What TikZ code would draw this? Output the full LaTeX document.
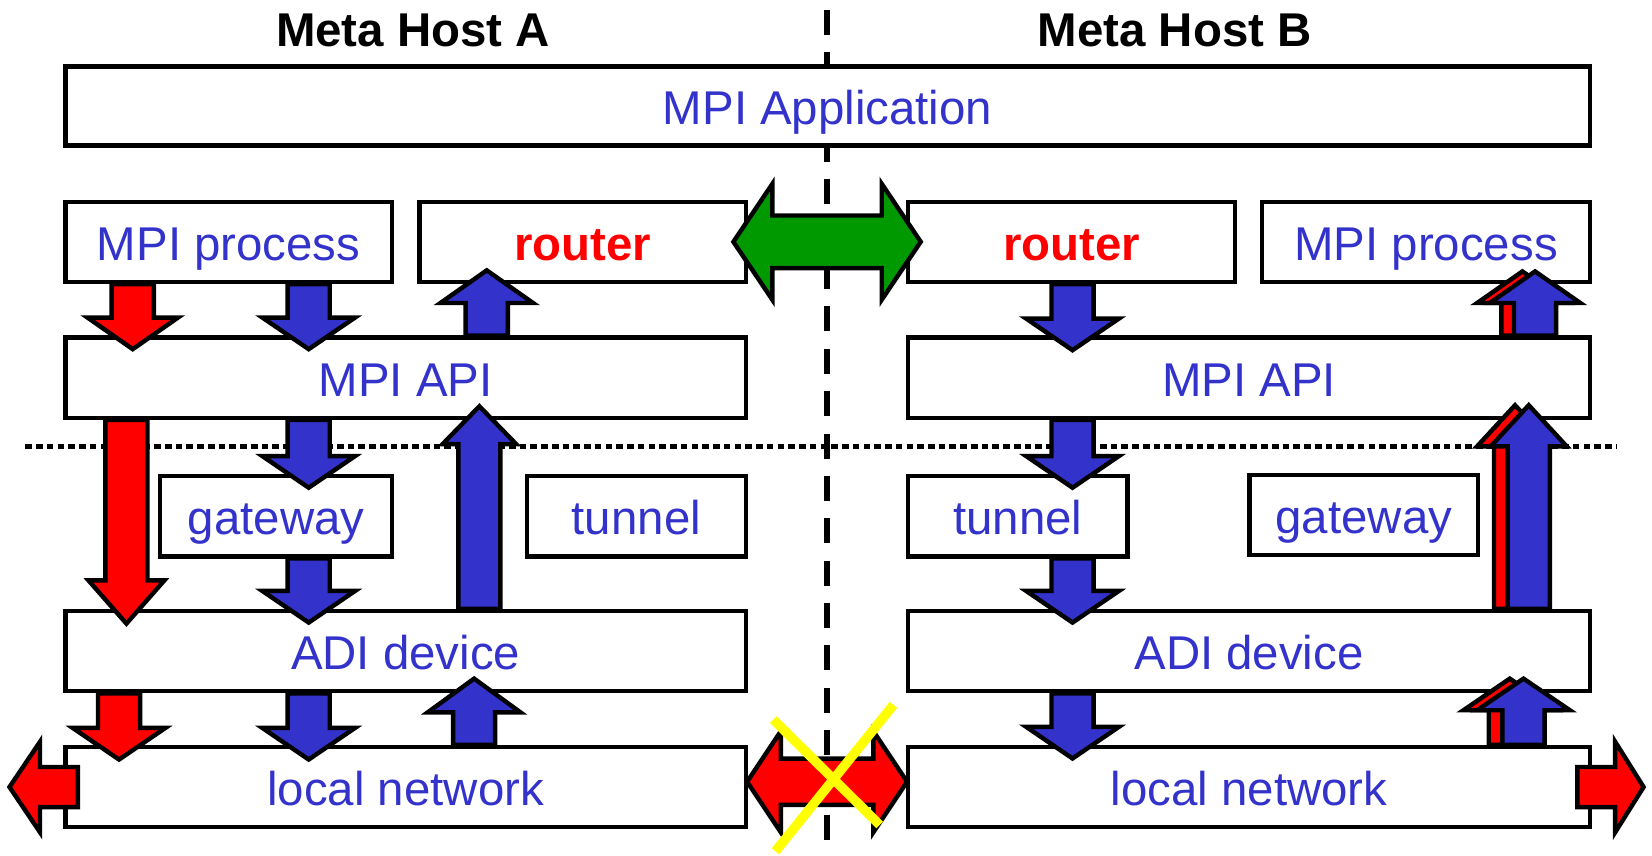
\documentclass[tikz,border=0pt]{standalone}
\usepackage{fontspec}
\setmainfont{Liberation Sans}
\usetikzlibrary{calc}
\definecolor{tblue}{HTML}{3333CC}
\definecolor{tgreen}{HTML}{009900}
\definecolor{tyellow}{HTML}{FFFF00}
\definecolor{tred}{HTML}{FF0000}
\newcommand\bigfont{\fontsize{45}{54}\selectfont}
% vertical block arrow: fill, x, tail anchor, target anchor, overshoot, shaft half, head half, head length
\newcommand\varr[8]{%
  \filldraw[blockarrow,fill=#1]
    let \p1=(#3), \p2=(#4),
        \n1={sign(\y2-\y1)},
        \n2={\y2+(\n1)*(#5)},
        \n3={\n2-(\n1)*(#8)},
        \n4={\y1}
    in ({#2-#6},{\n4}) -- ({#2-#6},{\n3}) -- ({#2-#7},{\n3}) -- ({#2},{\n2})
       -- ({#2+#7},{\n3}) -- ({#2+#6},{\n3}) -- ({#2+#6},{\n4}) -- cycle;}
% horizontal double block arrow: fill, image y, left anchor, right anchor, overshoot, shaft half, head half, head length
\newcommand\hdarr[8]{%
  \filldraw[blockarrow,fill=#1]
    let \p1=(#3), \p2=(#4), \n1={\x1-(#5)}, \n2={\x2+(#5)}, \n3={-(#2)} in
    ({\n1},{\n3}) -- ({\n1+#8},{\n3+#7}) -- ({\n1+#8},{\n3+#6}) -- ({\n2-#8},{\n3+#6})
    -- ({\n2-#8},{\n3+#7}) -- ({\n2},{\n3}) -- ({\n2-#8},{\n3-#7}) -- ({\n2-#8},{\n3-#6})
    -- ({\n1+#8},{\n3-#6}) -- ({\n1+#8},{\n3-#7}) -- cycle;}
% horizontal single block arrow: fill, tail, tip, shaft half, head half, head length
\newcommand\harr[6]{%
  \filldraw[blockarrow,fill=#1]
    let \p1=(#2), \p2=(#3), \n1={sign(\x2-\x1)}, \n2={\x2-(\n1)*(#6)},
        \n3={\x1}, \n4={\x2}, \n5={\y1} in
    ({\n3},{\n5+#4}) -- ({\n2},{\n5+#4}) -- ({\n2},{\n5+#5}) -- ({\n4},{\n5})
    -- ({\n2},{\n5-#5}) -- ({\n2},{\n5-#4}) -- ({\n3},{\n5-#4}) -- cycle;}
\tikzset{
  box/.style={draw, line width=4.2pt, fill=white, inner sep=0pt,
    text height=35pt, text depth=0pt, font=\bigfont, text=tblue},
  rowbox/.style={box, minimum height=76pt},
  routerbox/.style={rowbox, minimum width=310pt, text=tred, font=\bigfont\bfseries},
  titletext/.style={inner sep=0pt, text height=35pt, text depth=0pt, font=\bigfont\bfseries},
  blockarrow/.style={draw=black, line width=4.2pt, line join=miter},
  dashline/.style={line width=5.5pt, dash pattern=on 23.7pt off 16.5pt},
  dotline/.style={line width=5pt, dash pattern=on 6.3pt off 3.9pt},
  crossline/.style={draw=tyellow, line width=9pt}
}
\begin{document}
\begin{tikzpicture}[x=1pt,y=1pt]
\useasboundingbox (0,0) rectangle (1568,-812);
% separators
\coordinate (dashtop) at (785,-9.5);
\coordinate (dashbot) at (785,-812);
\coordinate (dotl) at (24,-424);
\coordinate (dotr) at (1535,-424);
\draw[dashline] (dashtop) -- (dashbot);
\draw[dotline] (dotl) -- (dotr);
% titles
\node[titletext] (titleA) at (392,-27) {Meta Host A};
\node[titletext] (titleB) at (1115,-27) {Meta Host B};
% boxes
\node[rowbox, minimum width=1447pt, minimum height=75pt] (app) at (785.5,-100.5) {MPI Application};
\node[rowbox, minimum width=310pt] (procA) at (217,-229.5) {MPI process};
\node[routerbox] (routA) at (553,-229.5) {router};
\node[routerbox] (routB) at (1017,-229.5) {router};
\node[rowbox, minimum width=311pt] (procB) at (1353.5,-229.5) {MPI process};
\node[rowbox, minimum width=646pt] (apiA) at (385,-358.5) {MPI API};
\node[rowbox, minimum width=647pt] (apiB) at (1185.5,-358.5) {MPI API};
\node[rowbox, minimum width=220pt] (gwA) at (262,-490) {gateway};
\node[rowbox, minimum width=208pt] (tunA) at (604,-490) {tunnel};
\node[rowbox, minimum width=208pt] (tunB) at (966,-490) {tunnel};
\node[rowbox, minimum width=217pt] (gwB) at (1294.5,-489) {gateway};
\node[rowbox, minimum width=646pt] (adiA) at (385,-618) {ADI device};
\node[rowbox, minimum width=647pt] (adiB) at (1185.5,-618) {ADI device};
\node[rowbox, minimum width=646pt] (netA) at (385,-747) {local network};
\node[rowbox, minimum width=647pt] (netB) at (1185.5,-747) {local network};
% host A arrows
\varr{tred}{126}{procA.south}{apiA.north}{13}{20}{43}{30}
\varr{tblue}{293}{procA.south}{apiA.north}{13}{20}{44}{30}
\varr{tblue}{462}{apiA.north}{routA.south}{13}{20}{44}{31}
\varr{tred}{120}{apiA.south}{adiA.north}{14}{20}{36}{41}
\varr{tblue}{293}{apiA.south}{gwA.north}{13}{20}{44}{30}
\varr{tblue}{293}{gwA.south}{adiA.north}{13}{20}{44}{30}
\varr{tblue}{455}{adiA.north}{apiA.south}{13}{20}{35}{36}
\varr{tred}{113}{adiA.south}{netA.north}{14}{20}{44}{30}
\varr{tblue}{293}{adiA.south}{netA.north}{14}{20}{44}{30}
\varr{tblue}{450}{netA.north}{adiA.south}{14}{20}{44}{32}
% host B arrows
\varr{tblue}{1018}{routB.south}{apiB.north}{14}{20}{44}{30}
\varr{tblue}{1018}{apiB.south}{tunB.north}{13}{20}{44}{30}
\varr{tblue}{1018}{tunB.south}{adiB.north}{13}{20}{44}{30}
\varr{tblue}{1018}{adiB.south}{netB.north}{13}{20}{44}{30}
\varr{tred}{1445}{apiB.north}{procB.south}{12}{20}{43}{30}
\varr{tblue}{1457}{apiB.north}{procB.south}{12}{20}{43}{30}
\varr{tred}{1438}{adiB.north}{apiB.south}{14}{20}{36}{39}
\varr{tblue}{1451}{adiB.north}{apiB.south}{14}{20}{36}{39}
\varr{tred}{1433}{netB.north}{adiB.south}{14}{20}{44}{30}
\varr{tblue}{1446}{netB.north}{adiB.south}{14}{20}{44}{30}
% horizontal arrows
\hdarr{tgreen}{229.5}{routA.east}{routB.west}{14}{25}{55}{37}
\hdarr{tred}{742}{netA.east}{netB.west}{1}{22}{48}{32}
\coordinate (netAtail) at ([xshift=14pt]netA.west);
\coordinate (netAout) at (9,-747);
\coordinate (netBtail) at ([xshift=-14pt]netB.east);
\coordinate (netBout) at (1560,-747);
\harr{tred}{netAtail}{netAout}{19}{43}{29}
\harr{tred}{netBtail}{netBout}{19}{43}{27}
% yellow cross
\coordinate (xa1) at (734,-683);
\coordinate (xa2) at (835,-783);
\coordinate (xb1) at (848,-669);
\coordinate (xb2) at (736,-808);
\draw[crossline] (xa1) -- (xa2);
\draw[crossline] (xb1) -- (xb2);
\end{tikzpicture}
\end{document}
